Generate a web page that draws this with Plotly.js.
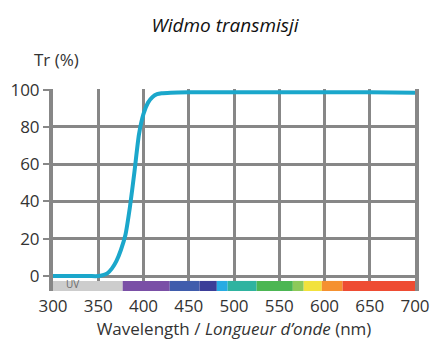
<!DOCTYPE html>
<html>
<head>
<meta charset="utf-8">
<script src="https://cdn.plot.ly/plotly-3.0.1.min.js"></script>
<style>html,body{margin:0;padding:0;background:#fff;}#chart{width:432px;height:340px;}</style>
</head>
<body>
<div id="chart"></div>
<script>
// Transmission curve
const wavelength = [300, 320, 340, 350, 355, 360, 365, 370, 375, 380, 385, 390, 395, 400, 405, 410, 415, 420, 430, 450, 500, 550, 600, 650, 700];
const transmission = [0, 0, 0, 0, 0.5, 1.5, 4, 8, 14, 22, 37, 56, 76, 87, 93, 96, 97.5, 98, 98.3, 98.5, 98.5, 98.5, 98.5, 98.5, 98.3];

// Spectrum colour band
const bandStart = [300, 377, 429, 462, 481, 493, 525, 565, 577, 597, 620];
const bandEnd   = [377, 429, 462, 481, 493, 525, 565, 577, 597, 620, 700];
const bandColor = ['#cdcdcd', '#7a4fa6', '#3f5cac', '#3b3d98', '#27abe3', '#2fb3a0', '#4cb653', '#8dc95a', '#f2e23c', '#f59130', '#ee4c33'];
const bandLabel = ['UV', '', '', '', '', '', '', '', '', '', ''];

const xTicks = [300, 350, 400, 450, 500, 550, 600, 650, 700];
const yTicks = [0, 20, 40, 60, 80, 100];

const gridColor = '#878787';
const FONT = 'Open Sans, sans-serif';
const shapes = bandStart.map((s, i) => ({
  type: 'rect', xref: 'x', yref: 'y', x0: s, x1: bandEnd[i], y0: -8, y1: -2.6,
  fillcolor: bandColor[i], line: {width: 0}, layer: 'above'
}));
const annotations = [];
bandLabel.forEach((t, i) => {
  if (t) annotations.push({
    x: (bandStart[i] + 345) / 2 - 1, y: -4.4, xref: 'x', yref: 'y', text: t, showarrow: false,
    font: {family: FONT, size: 10, color: '#6a6a6a'}
  });
});
annotations.push({
  x: 0.011, y: 1.145, xref: 'paper', yref: 'paper', text: 'Tr (%)', showarrow: false,
  xanchor: 'center', yanchor: 'middle',
  font: {family: FONT, size: 17, color: '#333'}
});

const trace = {
  x: wavelength, y: transmission, type: 'scatter', mode: 'lines',
  line: {color: '#1ba7cb', width: 4, shape: 'spline', smoothing: 0.6},
  hoverinfo: 'skip', cliponaxis: false
};

const layout = {
  width: 432, height: 340,
  margin: {l: 53, r: 17, t: 89, b: 49, pad: 0},
  paper_bgcolor: '#fff', plot_bgcolor: '#fff',
  showlegend: false,
  title: {
    text: '<i>Widmo transmisji</i>', x: 0.521, xanchor: 'center', y: 0.925, yanchor: 'middle',
    font: {family: FONT, size: 19, color: '#111'}
  },
  xaxis: {
    range: [300, 700], tickvals: xTicks, ticktext: xTicks.map(String),
    showgrid: true, gridcolor: gridColor, gridwidth: 3,
    zeroline: false, showline: false, ticks: '', ticklabelstandoff: 3,
    tickfont: {family: FONT, size: 17, color: '#333'},
    title: {
      text: 'Wavelength / <i>Longueur d\u2019onde</i> (nm)', standoff: 8,
      font: {family: FONT, size: 17, color: '#333'}
    },
    fixedrange: true
  },
  yaxis: {
    range: [-8, 100.3], tickvals: yTicks, ticktext: yTicks.map(String),
    showgrid: true, gridcolor: gridColor, gridwidth: 3,
    zeroline: false, showline: true, mirror: true, linecolor: gridColor, linewidth: 4,
    ticks: 'outside', ticklen: 6, tickwidth: 2, tickcolor: gridColor,
    tickfont: {family: FONT, size: 17, color: '#333'},
    fixedrange: true
  },
  shapes: shapes,
  annotations: annotations
};

Plotly.newPlot('chart', [trace], layout, {displayModeBar: false, staticPlot: true});
</script>
</body>
</html>
